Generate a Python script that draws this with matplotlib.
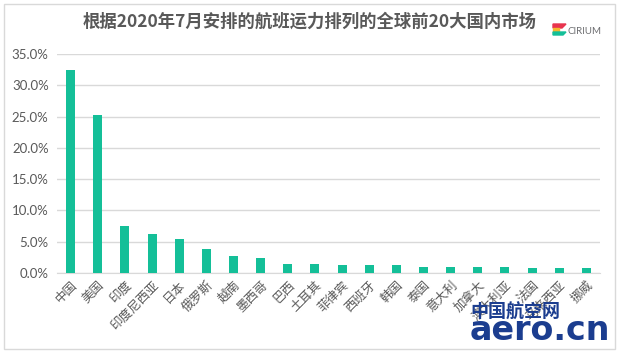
import matplotlib
matplotlib.use("Agg")
import matplotlib.pyplot as plt
from matplotlib.patches import Rectangle, Polygon
from matplotlib.ticker import PercentFormatter

plt.rcParams['font.family'] = ['Noto Sans CJK SC', 'DejaVu Sans']

countries = ["中国", "美国", "印度", "印度尼西亚", "日本", "俄罗斯", "越南", "墨西哥", "巴西", "土耳其",
             "菲律宾", "西班牙", "韩国", "泰国", "意大利", "加拿大", "澳大利亚", "法国", "马来西亚", "挪威"]
shares = [32.4, 25.2, 7.5, 6.2, 5.4, 3.8, 2.7, 2.4, 1.5, 1.5,
          1.3, 1.3, 1.3, 0.9, 0.9, 0.9, 0.9, 0.8, 0.8, 0.8]
yticks = [0, 5, 10, 15, 20, 25, 30, 35]
title = "根据2020年7月安排的航班运力排列的全球前20大国内市场"

W, H = 620, 353
fig = plt.figure(figsize=(W / 100, H / 100), dpi=100)
fig.patch.set_facecolor("white")

# outer chart border
fig.add_artist(Rectangle((4 / W, 4 / H), (W - 9) / W, (H - 8) / H, transform=fig.transFigure,
                         fill=False, edgecolor="#D9D9D9", linewidth=1))

ax = fig.add_axes([57 / W, (H - 273) / H, (600 - 57) / W, (273 - 54) / H])
x = range(len(countries))
ax.bar(x, shares, width=0.33, color="#14BF98", zorder=3)
ax.set_xlim(-0.5, len(countries) - 0.5)
ax.set_ylim(0, 35)
ax.set_yticks(yticks)
ax.yaxis.set_major_formatter(PercentFormatter(decimals=1))
ax.grid(axis="y", color="#D9D9D9", linewidth=1, zorder=0)
for s in ["top", "right", "left"]:
    ax.spines[s].set_visible(False)
ax.spines["bottom"].set_color("#D9D9D9")
ax.tick_params(axis="both", length=0)
ax.tick_params(axis="y", pad=6)
for lab in ax.get_yticklabels():
    lab.set_family(["Lato", "DejaVu Sans"])
    lab.set_fontsize(9.5)
    lab.set_color("#595959")
ax.set_xticks(list(x))
ax.set_xticklabels(countries, rotation=45, ha="right", va="top", rotation_mode="anchor",
                   fontsize=9, color="#595959")
ax.tick_params(axis="x", pad=4)

fig.text(0.5, (H - 22) / H, title, ha="center", va="center", fontsize=12.5,
         fontweight="bold", color="#595959")

# CIRIUM logo
fig.add_artist(Polygon([(553 / W, (H - 24) / H), (566 / W, (H - 24) / H), (562 / W, (H - 28) / H), (553 / W, (H - 28) / H)],
                       transform=fig.transFigure, color="#E8344E"))
fig.add_artist(Polygon([(553 / W, (H - 28) / H), (559 / W, (H - 28) / H), (559 / W, (H - 32) / H), (553 / W, (H - 32) / H)],
                       transform=fig.transFigure, color="#F5B82E"))
fig.add_artist(Polygon([(553 / W, (H - 32) / H), (566 / W, (H - 32) / H), (563 / W, (H - 35) / H), (553 / W, (H - 35) / H)],
                       transform=fig.transFigure, color="#14BF98"))
fig.text(567 / W, (H - 31) / H, "CIRIUM", ha="left", va="center", fontsize=7,
         family=["Lato", "DejaVu Sans"], color="#6D6E71")

# watermark
fig.text(515 / W, (H - 312) / H, "中国航空网", ha="center", va="center", fontsize=13,
         fontweight="bold", color="#1B3D8F")
fig.text(540 / W, (H - 331) / H, "aero.cn", ha="center", va="center", fontsize=24,
         fontweight="bold", family=["DejaVu Sans"], color="#1B3D8F")

fig.savefig("out.png", dpi=100)
